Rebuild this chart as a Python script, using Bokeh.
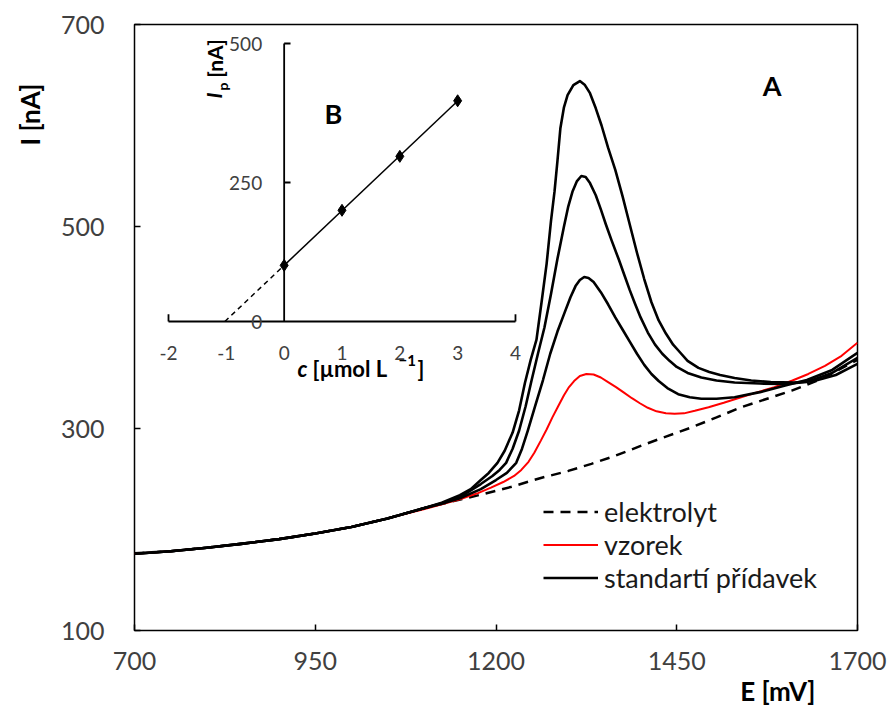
import numpy as np
from bokeh.plotting import figure
from bokeh.models import Range1d, Label, Legend, LegendItem, FixedTicker, Title
from bokeh.embed import file_html
from bokeh.resources import INLINE
from bokeh.core.properties import value

FONT = "Lato"

# ---------------- main chart data (A) ----------------
E_elektrolyt = [700, 750, 800, 850, 900, 950, 1000, 1050, 1100, 1138, 1179, 1220, 1262, 1300, 1332, 1365,
                1401, 1435, 1470, 1505, 1539, 1575, 1609, 1650, 1700]
I_elektrolyt = [176.5, 178.5, 182, 186, 190.5, 196, 202.5, 211, 221, 227.5, 234.5, 242, 251, 258, 265, 273,
                283, 292, 301, 311, 321, 329.5, 337.5, 349, 368]

E_vzorek = [700, 750, 800, 850, 900, 950, 1000, 1050, 1100, 1150, 1175, 1193, 1210, 1225, 1235, 1245, 1253,
            1262, 1270, 1278, 1286, 1294, 1301, 1308, 1316, 1325, 1335, 1345, 1355, 1366, 1377, 1388, 1399,
            1410, 1422, 1435, 1447, 1460, 1475, 1494, 1515, 1539, 1562, 1585, 1610, 1632, 1655, 1678, 1700]
I_vzorek = [176, 178.5, 182, 186, 190.5, 196, 202.5, 211, 220, 230, 236, 241.5, 247, 253, 259, 267, 276,
            288, 299, 311, 322, 333, 341, 347, 352, 354, 353.5, 350.5, 346, 341, 335.5, 330, 325,
            320.5, 317, 315, 314.5, 315, 317.5, 321, 325.5, 331, 336, 341, 347.5, 354, 362, 372, 385]

E_std1 = [700, 750, 800, 850, 900, 950, 1000, 1050, 1100, 1125, 1150, 1179, 1200, 1215, 1228, 1236, 1244,
          1254, 1265, 1275, 1285, 1295, 1303, 1310, 1316, 1322, 1328, 1335, 1345, 1355, 1365, 1375, 1385,
          1395, 1405, 1415, 1425, 1437, 1452, 1468, 1484, 1505, 1530, 1565, 1600, 1630, 1665, 1700]
I_std1 = [176, 178.5, 182, 186, 190.5, 196, 202.5, 211, 221, 225.5, 231, 240, 249, 256, 266, 280, 298,
          322, 348, 374, 396, 415, 430, 441, 447, 450, 449, 445, 435, 423, 410, 398, 386,
          374, 363, 354, 347, 340, 334, 331, 329.5, 329.5, 331, 336, 342.5, 348, 358, 375]

E_std2 = [700, 750, 800, 850, 900, 950, 1000, 1050, 1100, 1125, 1150, 1179, 1195, 1205, 1214, 1223, 1232,
          1241, 1249, 1258, 1267, 1276, 1285, 1294, 1300, 1306, 1312, 1318, 1324, 1330, 1338, 1345, 1352,
          1360, 1370, 1378, 1385, 1392, 1400, 1410, 1420, 1430, 1440, 1450, 1465, 1484, 1505, 1530, 1565,
          1600, 1630, 1665, 1700]
I_std2 = [176, 178.5, 182, 186, 190.5, 196, 202.5, 211, 221, 226, 232, 245, 253, 259, 266, 280, 298,
          322, 347, 374, 400, 433, 468, 500, 520, 535, 545, 550, 549, 543, 531, 517, 502,
          486, 467, 451, 437, 424, 410, 395, 383, 374, 367, 361, 355, 350.5, 347.5, 345.6, 344.5,
          344, 346, 355, 370]

E_std3 = [700, 750, 800, 850, 900, 950, 1000, 1050, 1100, 1125, 1150, 1165, 1179, 1190, 1202, 1212, 1223,
          1232, 1240, 1248, 1256, 1263, 1270, 1276, 1281, 1285, 1289, 1294, 1299, 1307, 1316, 1323, 1330,
          1338, 1346, 1355, 1365, 1375, 1385, 1395, 1405, 1415, 1425, 1435, 1445, 1455, 1465, 1480, 1495,
          1510, 1530, 1553, 1580, 1613, 1640, 1670, 1700]
I_std3 = [176, 178.5, 182, 186, 190.5, 196, 202.5, 211, 221, 226.5, 234, 240, 249, 256, 266, 278, 296,
          318, 345, 368, 388, 425, 463, 505, 535, 565, 597, 618, 630, 640, 644, 640, 632,
          617, 600, 578, 556, 530, 502, 474, 448, 425, 407, 394, 383, 375, 367, 360, 356,
          353, 350, 347.5, 346, 345.6, 347, 353, 364]

x_ticks = [700, 950, 1200, 1450, 1700]
y_ticks = [100, 300, 500, 700]

# ---------------- inset data (B) ----------------
c_added = [0, 1, 2, 3]
Ip_values = [101, 200, 297, 397]
c_ticks = [-2, -1, 0, 1, 2, 3, 4]
Ip_ticks = [0, 250, 500]

# ---------------- figure ----------------
p = figure(width=889, height=713, output_backend="svg", toolbar_location=None,
           x_range=Range1d(700, 1700), y_range=Range1d(100, 700),
           min_border_left=134, min_border_right=32, min_border_top=24, min_border_bottom=83)
p.background_fill_color = "white"
p.border_fill_color = "white"
p.outline_line_color = "black"
p.outline_line_width = 1.5
p.xgrid.visible = False
p.ygrid.visible = False

for ax in (p.xaxis, p.yaxis):
    ax.axis_line_color = None
    ax.major_tick_in = 6
    ax.major_tick_out = 0
    ax.major_tick_line_color = "black"
    ax.major_tick_line_width = 1.5
    ax.minor_tick_line_color = None
    ax.major_label_text_font = FONT
    ax.major_label_text_font_size = "25px"
    ax.major_label_text_color = "#404040"
p.xaxis.ticker = FixedTicker(ticks=x_ticks)
p.yaxis.ticker = FixedTicker(ticks=y_ticks)
p.xaxis.major_label_standoff = 21
p.yaxis.major_label_standoff = 30

# axis titles as side titles
tx = Title(text="E [mV]", align="right", offset=42, text_font=FONT, text_font_size="26px",
           text_font_style="bold", text_color="black", standoff=0)
p.add_layout(tx, "below")
ty = Title(text="I [nA]", align="right", offset=59, text_font=FONT, text_font_size="26px",
           text_font_style="bold", text_color="black", standoff=23)
p.add_layout(ty, "left")

r_el = p.line(E_elektrolyt, I_elektrolyt, line_color="black", line_width=2.5, line_dash="10 7")
r_vz = p.line(E_vzorek, I_vzorek, line_color="#ff0000", line_width=2)
r_s1 = p.line(E_std1, I_std1, line_color="black", line_width=2.6, line_join="round")
r_s2 = p.line(E_std2, I_std2, line_color="black", line_width=2.6, line_join="round")
r_s3 = p.line(E_std3, I_std3, line_color="black", line_width=2.6, line_join="round")

legend = Legend(items=[LegendItem(label="elektrolyt", renderers=[r_el]),
                       LegendItem(label="vzorek", renderers=[r_vz]),
                       LegendItem(label="standartí přídavek", renderers=[r_s1])],
                location=(409, 36))
legend.border_line_color = None
legend.background_fill_alpha = 0
legend.padding = 0
legend.margin = 0
legend.glyph_width = 55
legend.glyph_height = 29
legend.label_height = 29
legend.spacing = 0
legend.label_standoff = 6
legend.label_text_font = FONT
legend.label_text_font_size = "27px"
legend.label_text_color = "#1a1a1a"
p.add_layout(legend, "center")


def lab(x, y, text, size, style="bold", angle=0, align="left", baseline="middle",
        units="data", xr="default", yr="default"):
    p.add_layout(Label(x=x, y=y, text=text, text_font=FONT, text_font_size=size,
                       text_font_style=style, angle=angle, text_align=align,
                       text_baseline=baseline, text_color="black",
                       x_units=units, y_units=units, x_range_name=xr, y_range_name=yr))


lab(1582, 640, "A", "27px", align="center")

# ---------------- inset on extra ranges ----------------
p.extra_x_ranges = {"c": Range1d(-2 - 34 / 57.83, -2 + 689 / 57.83)}
p.extra_y_ranges = {"ip": Range1d(-309 * 1.7986, 297 * 1.7986)}

slope, intercept = np.polyfit(c_added, Ip_values, 1)
c0 = -intercept / slope
p.line([c0, 0], [0, intercept], x_range_name="c", y_range_name="ip",
       line_color="black", line_width=1.5, line_dash="5 4")
p.line([0, max(c_added)], [intercept, intercept + slope * max(c_added)], x_range_name="c",
       y_range_name="ip", line_color="black", line_width=1.5)
p.scatter(c_added, Ip_values, x_range_name="c", y_range_name="ip", marker="diamond",
          size=12, fill_color="black", line_color="black")

# inset axes
p.line([c_ticks[0], c_ticks[-1]], [0, 0], x_range_name="c", y_range_name="ip",
       line_color="black", line_width=1.8)
p.line([0, 0], [0, Ip_ticks[-1]], x_range_name="c", y_range_name="ip",
       line_color="black", line_width=1.8)
p.segment(x0=[c_ticks[0], c_ticks[-1]], y0=[0, 0], x1=[c_ticks[0], c_ticks[-1]], y1=[13, 13],
          x_range_name="c", y_range_name="ip", line_color="black", line_width=1.8)
p.segment(x0=[0] * 2, y0=Ip_ticks[1:], x1=[0.11] * 2, y1=Ip_ticks[1:],
          x_range_name="c", y_range_name="ip", line_color="black", line_width=1.8)

p.text(x=c_ticks, y=[0] * len(c_ticks), text=[str(t) for t in c_ticks], x_range_name="c",
       y_range_name="ip", text_font=value(FONT), text_font_size="19px", text_color="#404040",
       text_align="center", text_baseline="middle", y_offset=31)
p.text(x=[0] * len(Ip_ticks), y=Ip_ticks, text=[str(t) for t in Ip_ticks], x_range_name="c",
       y_range_name="ip", text_font=value(FONT), text_font_size="19px", text_color="#404040",
       text_align="right", text_baseline="middle", x_offset=-22)

# inset axis titles (canvas pixel positions inside the frame)
lab(297, 368, "c", "22px", style="bold italic", units="canvas")
lab(312, 368, "[µmol L", "22px", units="canvas")
lab(398, 360, "−1", "15px", units="canvas")
lab(417, 368, "]", "22px", units="canvas")
lab(213, 95, "I", "21px", style="bold italic", angle=np.pi / 2, align="center", units="canvas")
lab(222, 86, "p", "14px", angle=np.pi / 2, align="center", units="canvas")
lab(214, 58, "[nA]", "21px", angle=np.pi / 2, align="center", units="canvas")
lab(333, 113, "B", "27px", align="center", units="canvas")

open("out.html", "w").write(file_html(p, INLINE))
